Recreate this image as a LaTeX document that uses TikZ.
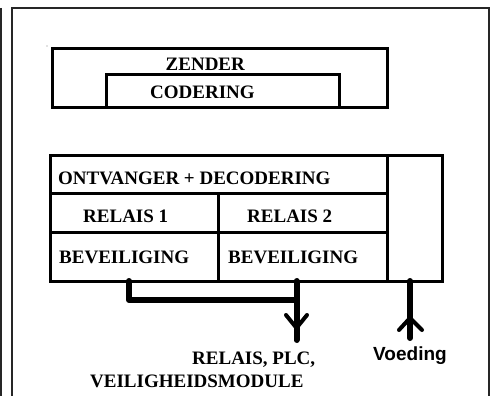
\documentclass[tikz,border=0pt]{standalone}
\usepackage{fontspec}
\setmainfont{Liberation Serif}
\newfontfamily\arialfont{Liberation Sans}
\begin{document}
\begin{tikzpicture}[x=1pt,y=-1pt,
  frameline/.style={draw=black!85,line width=2.2pt},
  blockbox/.style={draw=black,line width=3pt,rectangle,inner sep=0pt,outer sep=0pt},
  lbl/.style={font=\fontsize{19}{22}\selectfont\bfseries,anchor=base west,inner sep=0pt},
  slbl/.style={font=\arialfont\fontsize{19}{22}\selectfont\bfseries,anchor=base west,inner sep=0pt},
  bus/.style={line width=6pt,line cap=round,line join=round},
  arms/.style={line width=4pt,line cap=round,line join=round}]
\useasboundingbox (0,0) rectangle (496,396);
% outer lines
\draw[frameline] (1.2,8) -- (1.2,400);
\draw[frameline] (12,400) -- (12,8) -- (489,8) -- (489,400);
\fill[black!50] (47,46) circle (0.7);
% zender
\node[blockbox,minimum width=335pt,minimum height=59pt] (zender) at (219.5,78.5) {};
\draw[line width=3pt] (106,108) -- (106,75) -- (339,75) -- (339,108);
\node[lbl] (tz) at (165.5,70.5) {ZENDER};
\node[lbl] (tc) at (150,99) {CODERING};
% receiver block
\node[blockbox,minimum width=337pt,minimum height=38pt] (ontv) at (218.5,174) {};
\node[blockbox,minimum width=168pt,minimum height=39pt] (rel1) at (134,212.5) {};
\node[blockbox,minimum width=169pt,minimum height=39pt] (rel2) at (302.5,212.5) {};
\node[blockbox,minimum width=168pt,minimum height=49pt] (bev1) at (134,256.5) {};
\node[blockbox,minimum width=169pt,minimum height=49pt] (bev2) at (302.5,256.5) {};
\node[blockbox,minimum width=55pt,minimum height=126pt] (voed) at (414.5,218) {};
\node[lbl] (tontv) at (58,184.3) {ONTVANGER + DECODERING};
\node[lbl] (trel1) at (83,222.3) {RELAIS 1};
\node[lbl] (trel2) at (247,222.3) {RELAIS 2};
\node[lbl] (tbev1) at (59,263.3) {BEVEILIGING};
\node[lbl] (tbev2) at (228,263.3) {BEVEILIGING};
% connectors
\coordinate (s1) at (bev1.south -| 129,0);
\coordinate (s2) at (bev2.south -| 296.5,0);
\coordinate (out) at (296.5,340);
\coordinate (vs) at (voed.south -| 410,0);
\coordinate (vin) at (410,338);
\draw[bus] (s1) -- (129,300) -- (296.5,300);
\draw[bus] (s2) -- (out);
\draw[arms] (286,315) -- (296.5,328) -- (307,315);
\draw[bus] (vs) -- (vin);
\draw[arms] (399,330) -- (410,318) -- (422,330);
% output labels
\node[lbl] (tout1) at (192,364) {RELAIS, PLC,};
\node[lbl] (tout2) at (90,387) {VEILIGHEIDSMODULE};
\node[slbl] (tvoed) at (373,360.5) {Voeding};
\end{tikzpicture}
\end{document}
